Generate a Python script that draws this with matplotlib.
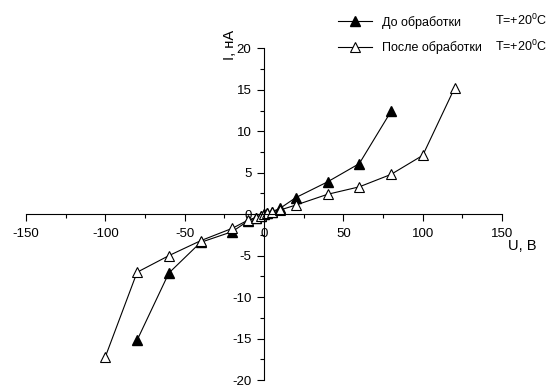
import matplotlib
matplotlib.use("Agg")
import matplotlib.pyplot as plt
from matplotlib.ticker import MultipleLocator

plt.rcParams['font.family'] = ['Liberation Sans', 'DejaVu Sans']

# voltage, V
u_before = [-80, -60, -40, -20, -10, -5, -2, 0, 2, 5, 10, 20, 40, 60, 80]
i_before = [-15.2, -7.1, -3.4, -2.1, -0.8, -0.4, -0.2, 0, 0.1, 0.3, 0.7, 2.0, 3.9, 6.1, 12.4]

u_after = [-100, -80, -60, -40, -20, -10, -5, -2, 0, 2, 5, 10, 20, 40, 60, 80, 100, 120]
i_after = [-17.2, -7.0, -5.0, -3.2, -1.7, -0.7, -0.4, -0.2, 0, 0.1, 0.3, 0.5, 1.1, 2.4, 3.3, 4.8, 7.1, 15.2]

labels = ["До обработки", "После обработки"]
temp_label = "T=+20$^\\mathregular{0}$C"

fig = plt.figure(figsize=(5.53, 3.87), dpi=100)
ax = fig.add_axes([0.047, 0.018, 0.861, 0.857])

ax.plot(u_before, i_before, color='black', lw=0.8, marker='^', ms=7,
        mfc='black', mec='black', label=labels[0])
ax.plot(u_after, i_after, color='black', lw=0.8, marker='^', ms=7,
        mfc='white', mec='black', mew=0.8, label=labels[1])

ax.set_xlim(-150, 150)
ax.set_ylim(-20, 20)

ax.spines['left'].set_position(('data', 0))
ax.spines['bottom'].set_position(('data', 0))
ax.spines['right'].set_visible(False)
ax.spines['top'].set_visible(False)

ax.xaxis.set_major_locator(MultipleLocator(50))
ax.xaxis.set_minor_locator(MultipleLocator(25))
ax.yaxis.set_major_locator(MultipleLocator(5))
ax.yaxis.set_minor_locator(MultipleLocator(2.5))
ax.tick_params(which='major', direction='out', length=5, width=0.8, labelsize=9.5)
ax.tick_params(axis='x', which='major', pad=5)
ax.tick_params(axis='y', which='major', pad=4)
ax.tick_params(which='minor', direction='out', length=3, width=0.8)
ax.set_xticklabels([f"{int(v)}" for v in ax.get_xticks()])
ax.set_yticklabels([f"{int(v)}" for v in ax.get_yticks()])

fig.text(0.944, 0.365, "U, B", fontsize=10.5, ha='center', va='center')
fig.text(0.416, 0.885, "I, нА", fontsize=10.5, ha='center', va='center', rotation=90)

leg = ax.legend(loc='upper left', bbox_to_anchor=(0.602, 0.972), bbox_transform=fig.transFigure,
                frameon=False, fontsize=9, handlelength=2.7, handletextpad=0.8,
                labelspacing=0.98, borderaxespad=0)
for row_y in (0.946, 0.879):
    fig.text(0.895, row_y, temp_label, fontsize=9, ha='left', va='center')

fig.savefig("out.png", dpi=100)
